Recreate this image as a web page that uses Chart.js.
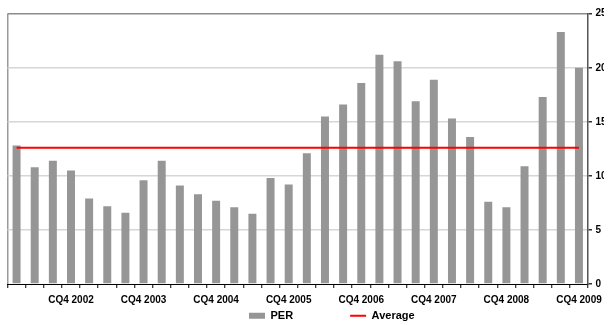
<!DOCTYPE html>
<html>
<head>
<meta charset="utf-8">
<script src="https://cdn.jsdelivr.net/npm/chart.js@4/dist/chart.umd.min.js"></script>
<style>
  html, body { margin: 0; padding: 0; background: #ffffff; }
  #wrap { width: 608px; height: 325px; }
</style>
</head>
<body>
<div id="wrap"><canvas id="c" width="608" height="325"></canvas></div>
<script>
const categories = [
  'CQ1 2002','CQ2 2002','CQ3 2002','CQ4 2002',
  'CQ1 2003','CQ2 2003','CQ3 2003','CQ4 2003',
  'CQ1 2004','CQ2 2004','CQ3 2004','CQ4 2004',
  'CQ1 2005','CQ2 2005','CQ3 2005','CQ4 2005',
  'CQ1 2006','CQ2 2006','CQ3 2006','CQ4 2006',
  'CQ1 2007','CQ2 2007','CQ3 2007','CQ4 2007',
  'CQ1 2008','CQ2 2008','CQ3 2008','CQ4 2008',
  'CQ1 2009','CQ2 2009','CQ3 2009','CQ4 2009'
];
const perValues = [
  12.8, 10.8, 11.4, 10.5,
  7.9, 7.2, 6.6, 9.6,
  11.4, 9.1, 8.3, 7.7,
  7.1, 6.5, 9.8, 9.2,
  12.1, 15.5, 16.6, 18.6,
  21.2, 20.6, 16.9, 18.9,
  15.3, 13.6, 7.6, 7.1,
  10.9, 17.3, 23.3, 20.0
];
const averageValues = [
  12.6, 12.6, 12.6, 12.6, 12.6, 12.6, 12.6, 12.6,
  12.6, 12.6, 12.6, 12.6, 12.6, 12.6, 12.6, 12.6,
  12.6, 12.6, 12.6, 12.6, 12.6, 12.6, 12.6, 12.6,
  12.6, 12.6, 12.6, 12.6, 12.6, 12.6, 12.6, 12.6
];
const yTicks = [0, 5, 10, 15, 20, 25];
const seriesNames = ['PER', 'Average'];

const FONT = "'Liberation Sans', Arial, Helvetica, sans-serif";
const LEGEND_PAD = 57;

const legendPlacement = {
  id: 'legendPlacement',
  beforeLayout(chart) {
    const lg = chart.legend;
    if (!lg || lg._placed) return;
    lg._placed = true;
    const fit = lg.fit;
    lg.fit = function () { fit.call(this); this.height = 19; };
    const draw = lg.draw;
    lg.draw = function (area) {
      const t = this.top, l = this.left;
      this.top = 310.2 - LEGEND_PAD;
      this.left = 249 - LEGEND_PAD;
      draw.call(this, area);
      this.top = t; this.left = l;
    };
  }
};

new Chart(document.getElementById('c'), {
  data: {
    labels: categories,
    datasets: [
      {
        type: 'bar',
        label: seriesNames[0],
        data: perValues,
        backgroundColor: '#969696',
        borderWidth: 0,
        barPercentage: 0.44,
        categoryPercentage: 1.0,
        order: 1
      },
      {
        type: 'line',
        label: seriesNames[1],
        data: averageValues,
        borderColor: '#ff0000',
        backgroundColor: '#ff0000',
        borderWidth: 2,
        pointRadius: 0,
        pointHoverRadius: 0,
        fill: false,
        tension: 0,
        order: 0
      }
    ]
  },
  options: {
    responsive: false,
    animation: false,
    layout: { padding: { left: 7.5, top: 13.7, right: 0, bottom: 0 } },
    plugins: {
      tooltip: { enabled: false },
      legend: {
        position: 'bottom',
        align: 'start',
        labels: {
          usePointStyle: true,
          pointStyleWidth: 16,
          boxHeight: 6,
          padding: LEGEND_PAD,
          color: '#000000',
          font: { family: FONT, size: 11, weight: 'bold' },
          sort: (a, b) => a.datasetIndex - b.datasetIndex,
          generateLabels(chart) {
            const items = Chart.defaults.plugins.legend.labels.generateLabels(chart);
            items.forEach(it => {
              it.pointStyle = it.datasetIndex === 0 ? 'rect' : 'line';
              if (it.datasetIndex === 0) { it.lineWidth = 0; }
            });
            return items;
          }
        }
      }
    },
    scales: {
      x: {
        offset: true,
        grid: {
          offset: true,
          drawOnChartArea: true,
          color: (ctx) => ctx.index === 0 ? '#9a9a9a' : 'rgba(0,0,0,0)',
          lineWidth: 1.5,
          tickColor: '#000000',
          tickLength: 4,
          tickWidth: 1
        },
        border: { display: true, color: '#000000', width: 1 },
        ticks: {
          autoSkip: false,
          maxRotation: 0,
          minRotation: 0,
          padding: 6,
          color: '#000000',
          font: { family: FONT, size: 10, weight: 'bold' },
          callback: function (value, index) {
            return index % 4 === 3 ? categories[index] : '';
          }
        },
        afterFit(scale) { scale.height = 22; }
      },
      y: {
        position: 'right',
        min: 0,
        max: 25,
        afterBuildTicks(scale) { scale.ticks = yTicks.map(v => ({ value: v })); },
        grid: {
          color: (ctx) => {
            const v = ctx.tick ? ctx.tick.value : null;
            if (v === 25) return '#8c8c8c';
            if (v === 0) return 'rgba(0,0,0,0)';
            return '#d6d6d6';
          },
          lineWidth: (ctx) => (ctx.tick && ctx.tick.value === 25) ? 1.5 : 1.5,
          tickColor: '#333333',
          tickLength: 4,
          tickWidth: 1.5
        },
        border: { display: true, color: '#555555', width: 1.5 },
        ticks: {
          padding: 3.5,
          color: '#000000',
          font: { family: FONT, size: 10, weight: 'bold' }
        },
        afterFit(scale) { scale.width = 16; }
      }
    }
  },
  plugins: [legendPlacement]
});
</script>
</body>
</html>
